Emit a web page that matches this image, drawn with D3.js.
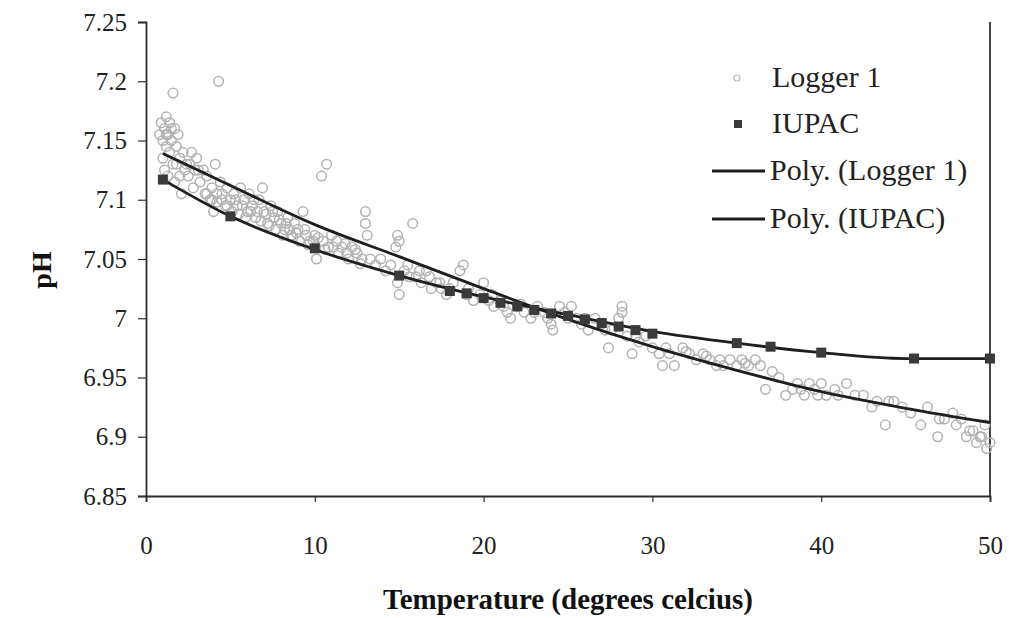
<!DOCTYPE html>
<html>
<head>
<meta charset="utf-8">
<script src="https://cdn.jsdelivr.net/npm/d3@7"></script>
<style>
  body { margin: 0; background: #fff; }
  svg { display: block; font-family: "Liberation Serif", "Times New Roman", serif; }
</style>
</head>
<body>
<svg id="chart" width="1009" height="618"></svg>
<script>
// tick values
const xTicks = [0, 10, 20, 30, 40, 50];
const yTicks = [6.85, 6.9, 6.95, 7, 7.05, 7.1, 7.15, 7.2, 7.25];

// Logger 1 readings [temperature, pH]
const loggerPoints = [
  [0.8,7.155],[0.9,7.165],[1.0,7.15],[1.0,7.135],[1.1,7.16],[1.1,7.125],[1.2,7.17],[1.2,7.145],
  [1.3,7.155],[1.3,7.12],[1.4,7.165],[1.4,7.14],[1.5,7.15],[1.6,7.19],[1.6,7.13],[1.7,7.16],
  [1.7,7.115],[1.8,7.145],[1.9,7.155],[2.0,7.135],[2.0,7.12],[2.1,7.105],[2.2,7.14],
  [1.2,7.155],[1.5,7.16],[1.8,7.13],[2.3,7.125],[2.6,7.13],[3.1,7.125],
  [2.4,7.13],[2.5,7.12],[2.7,7.14],[2.8,7.11],[2.9,7.125],[3.0,7.135],[3.2,7.115],[3.4,7.125],
  [3.5,7.105],[3.6,7.12],[3.8,7.1],[3.9,7.11],[4.0,7.09],[4.1,7.13],[4.2,7.105],[4.3,7.2],
  [4.4,7.115],[4.5,7.1],[4.7,7.095],[4.8,7.11],[5.0,7.1],
  [3.6,7.105],[3.9,7.1],[4.2,7.098],[4.5,7.105],[4.8,7.095],[5.1,7.09],[5.3,7.1],[5.5,7.088],
  [5.7,7.095],[5.9,7.085],[6.2,7.09],[6.4,7.1],[6.6,7.09],[6.8,7.082],[7.1,7.088],[7.3,7.078],
  [7.5,7.09],[7.7,7.075],[7.9,7.083],[8.1,7.07],[8.3,7.08],[8.5,7.075],[8.7,7.068],[8.9,7.072],
  [9.1,7.065],[9.4,7.075],[9.6,7.062],[9.9,7.065],[10.2,7.068],[10.6,7.058],[11.1,7.06],
  [11.4,7.055],[11.8,7.063],[12.0,7.05],[12.4,7.058],[12.7,7.046],
  [5.2,7.105],[5.4,7.095],[5.6,7.11],[5.8,7.1],[6.0,7.09],[6.1,7.105],[6.3,7.095],[6.5,7.085],
  [6.7,7.1],[6.9,7.11],[7.0,7.09],[7.2,7.08],[7.4,7.095],[7.6,7.085],[7.8,7.09],[8.0,7.08],
  [8.2,7.075],[8.4,7.085],[8.6,7.07],[8.8,7.08],[9.0,7.075],[9.3,7.09],[9.5,7.07],[9.7,7.065],
  [10.0,7.07],[10.1,7.05],
  [10.4,7.12],[10.7,7.13],[10.5,7.065],[10.8,7.06],[11.0,7.07],[11.3,7.065],[11.6,7.06],
  [11.9,7.055],[12.2,7.06],[12.5,7.055],[12.8,7.05],[13.0,7.09],[13.0,7.08],[13.1,7.07],
  [13.3,7.05],[13.6,7.045],[13.9,7.05],[14.2,7.04],[14.5,7.045],[14.8,7.06],[14.9,7.07],
  [15.0,7.065],[14.9,7.03],[15.0,7.02],
  [15.3,7.04],[15.6,7.035],[15.8,7.08],[16.0,7.035],[16.3,7.03],[16.6,7.04],[16.9,7.025],
  [17.2,7.03],[17.5,7.025],[17.8,7.02],[18.2,7.03],[18.6,7.04],[18.8,7.045],[19.1,7.025],
  [19.4,7.015],[19.8,7.02],[20.0,7.03],
  [15.5,7.045],[16.2,7.04],[16.8,7.035],[17.4,7.03],[18.0,7.025],[19.0,7.02],[20.5,7.02],
  [21.2,7.01],[22.2,7.012],[23.0,7.005],[23.8,7.0],[25.0,7.0],[26.0,7.0],[27.2,6.99],
  [20.3,7.015],[20.6,7.01],[21.0,7.015],[21.4,7.005],[21.6,7.0],[22.0,7.01],[22.4,7.005],
  [22.8,7.0],[23.2,7.01],[23.6,7.005],[24.0,6.995],[24.1,6.99],[24.5,7.01],[24.8,7.005],[25.2,7.01],
  [25.5,7.0],[25.8,6.995],[26.2,6.99],[26.6,7.0],[27.0,6.995],[27.4,6.975],[27.6,6.99],
  [28.0,7.0],[28.2,7.01],[28.2,7.005],[28.5,6.985],[28.8,6.97],[29.2,6.98],[29.6,6.985],[30.0,6.975],
  [29.0,6.985],[30.8,6.975],[32.0,6.972],[33.2,6.968],[34.0,6.965],[35.5,6.962],
  [30.4,6.97],[30.6,6.96],[31.0,6.97],[31.3,6.96],[31.8,6.975],[32.2,6.97],[32.6,6.965],
  [33.0,6.97],[33.4,6.965],[33.8,6.96],[34.2,6.96],[34.6,6.965],[35.0,6.96],
  [35.3,6.965],[35.7,6.96],[36.1,6.965],[36.4,6.96],[36.7,6.94],[37.1,6.955],[37.5,6.95],
  [37.9,6.935],[38.3,6.94],[38.6,6.945],[39.0,6.935],[39.3,6.945],[39.6,6.94],[39.8,6.935],[40.0,6.945],
  [38.8,6.94],[41.0,6.935],[44.0,6.93],[47.0,6.915],[48.8,6.905],[49.4,6.9],
  [40.3,6.935],[40.8,6.94],[41.5,6.945],[42.0,6.935],[42.5,6.935],[43.0,6.925],[43.3,6.93],
  [43.8,6.91],[44.3,6.93],[44.8,6.925],[45.3,6.92],[45.9,6.91],[46.3,6.925],[46.9,6.9],
  [47.3,6.915],[47.8,6.92],[48.0,6.91],[48.3,6.915],[48.6,6.9],[49.0,6.905],[49.2,6.895],
  [49.5,6.9],[49.8,6.89],[50.0,6.895],[49.7,6.91]
];

// IUPAC values
const iupacTemp = [1, 5, 10, 15, 18, 19, 20, 21, 22, 23, 24, 25, 26, 27, 28, 29, 30, 35, 37, 40, 45.5, 50];
const iupacPH = [7.117, 7.086, 7.059, 7.036, 7.023, 7.021, 7.017, 7.013, 7.010, 7.007, 7.004, 7.002,
                 6.999, 6.996, 6.993, 6.990, 6.987, 6.979, 6.976, 6.971, 6.966, 6.966];

// polynomial trendlines as drawn in the original
const polyLoggerTemp = [1, 5, 10, 15, 20, 25, 30, 35, 40, 45, 50];
const polyLoggerPH = [7.139, 7.112, 7.079, 7.052, 7.025, 6.999, 6.976, 6.956, 6.938, 6.924, 6.912];
const polyIupacTemp = [1, 5, 10, 15, 20, 25, 30, 35, 40, 45, 50];
const polyIupacPH = [7.117, 7.086, 7.058, 7.036, 7.018, 7.003, 6.989, 6.979, 6.971, 6.966, 6.966];

const legendLabels = ["Logger 1", "IUPAC", "Poly. (Logger 1)", "Poly. (IUPAC)"];

const svg = d3.select("#chart");
const plotLeft = 146, plotRight = 990, plotTop = 22, plotBottom = 496;

const x = d3.scaleLinear().domain([0, 50]).range([plotLeft, plotRight]);
const y = d3.scaleLinear().domain([6.85, 7.25]).range([plotBottom, plotTop]);

const axisColor = "#2e2e2e";

// right border of plot area
svg.append("line")
    .attr("x1", plotRight).attr("x2", plotRight)
    .attr("y1", plotTop).attr("y2", plotBottom)
    .attr("stroke", axisColor).attr("stroke-width", 1.8);

// logger scatter
svg.append("g")
    .selectAll("circle")
    .data(loggerPoints)
    .join("circle")
    .attr("cx", d => x(d[0]))
    .attr("cy", d => y(d[1]))
    .attr("r", 4.8)
    .attr("fill", "none")
    .attr("stroke", "#b2b2b2")
    .attr("stroke-width", 1.5);

const line = d3.line().curve(d3.curveMonotoneX);

svg.append("path")
    .attr("d", line(polyLoggerTemp.map((t, i) => [x(t), y(polyLoggerPH[i])])))
    .attr("fill", "none").attr("stroke", "#1e1e1e").attr("stroke-width", 2.8);

svg.append("path")
    .attr("d", line(polyIupacTemp.map((t, i) => [x(t), y(polyIupacPH[i])])))
    .attr("fill", "none").attr("stroke", "#1e1e1e").attr("stroke-width", 2.8);

// IUPAC squares
svg.append("g")
    .selectAll("rect")
    .data(iupacTemp)
    .join("rect")
    .attr("x", (d) => x(d) - 5)
    .attr("y", (d, i) => y(iupacPH[i]) - 5)
    .attr("width", 10).attr("height", 10)
    .attr("fill", "#3a3a3a");

// axes
const yAxis = svg.append("g")
    .attr("transform", `translate(${plotLeft},0)`)
    .call(d3.axisLeft(y).tickValues(yTicks).tickSize(8).tickPadding(11)
        .tickFormat(d => String(+d.toFixed(2))));

const xAxis = svg.append("g")
    .attr("transform", `translate(0,${plotBottom})`)
    .call(d3.axisBottom(x).tickValues(xTicks).tickSize(6).tickPadding(34));

[xAxis, yAxis].forEach(g => {
    g.select(".domain").attr("stroke", axisColor).attr("stroke-width", 1.8);
    g.selectAll(".tick line").attr("stroke", axisColor).attr("stroke-width", 1.2);
    g.selectAll("text")
        .attr("font-family", "Liberation Serif")
        .attr("font-size", 25)
        .attr("fill", "#222");
});

// axis titles
svg.append("text")
    .attr("x", (plotLeft + plotRight) / 2).attr("y", 609)
    .attr("text-anchor", "middle")
    .attr("font-size", 29).attr("font-weight", "bold").attr("fill", "#111")
    .text("Temperature (degrees celcius)");

svg.append("text")
    .attr("transform", "translate(51,270) rotate(-90)")
    .attr("text-anchor", "middle")
    .attr("font-size", 28).attr("font-weight", "bold").attr("fill", "#111")
    .text("pH");

// legend
const legend = svg.append("g");
const rowY = [78, 124, 171, 219];
legend.selectAll("text")
    .data(legendLabels)
    .join("text")
    .attr("x", (d, i) => i < 2 ? 772 : 770)
    .attr("y", (d, i) => rowY[i] + 9)
    .attr("font-size", 30).attr("fill", "#222")
    .text(d => d);

legend.append("circle")
    .attr("cx", 737).attr("cy", rowY[0]).attr("r", 3)
    .attr("fill", "none").attr("stroke", "#bbb").attr("stroke-width", 1.2);
legend.append("rect")
    .attr("x", 734).attr("y", rowY[1] - 4).attr("width", 8).attr("height", 8)
    .attr("fill", "#3a3a3a");
[rowY[2], rowY[3]].forEach(ry => {
    legend.append("line")
        .attr("x1", 712).attr("x2", 765).attr("y1", ry).attr("y2", ry)
        .attr("stroke", "#1e1e1e").attr("stroke-width", 2.8);
});
</script>
</body>
</html>
